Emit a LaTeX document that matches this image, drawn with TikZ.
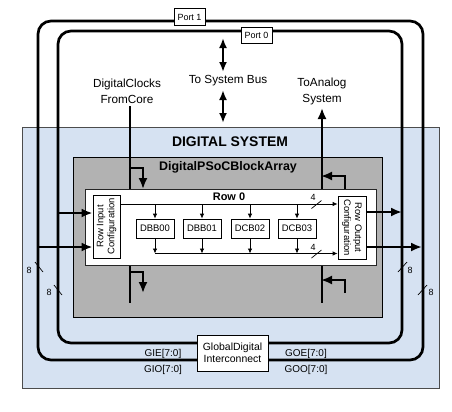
\documentclass[tikz,border=0pt]{standalone}
\usepackage{fontspec}
\setmainfont{Liberation Sans}
\usetikzlibrary{arrows.meta}
\definecolor{sysblue}{HTML}{D6E2F2}
\definecolor{arraygray}{HTML}{B2B2B2}
\begin{document}
\begin{tikzpicture}[x=1bp,y=-1bp,
  loopline/.style={line width=2.7bp, rounded corners=13bp},
  bigarrow/.style={line width=2.6bp, -{Latex[length=11bp,width=9bp]}},
  clkarrow/.style={line width=2bp, -{Latex[length=11bp,width=9bp]}},
  clkline/.style={line width=2bp},
  smallarrow/.style={line width=0.8bp, -{Latex[length=5bp,width=4.5bp]}},
  thinline/.style={line width=0.7bp},
  sysarrow/.style={line width=2.2bp, {Latex[length=10bp,width=8bp]}-{Latex[length=10bp,width=8bp]}},
  whitebox/.style={draw, fill=white, line width=0.8bp, inner sep=0pt},
  blk/.style={whitebox, minimum width=38bp, minimum height=19bp, font=\fontsize{9.5}{11}\selectfont},
  portbox/.style={whitebox, minimum width=31bp, minimum height=16.5bp, font=\fontsize{9}{10}\selectfont},
  lbl/.style={font=\fontsize{11.8}{16}\selectfont, align=center, inner sep=0pt},
  small/.style={font=\fontsize{10}{11}\selectfont, inner sep=0pt},
  tiny/.style={font=\fontsize{9}{10}\selectfont, inner sep=0pt},
  rottext/.style={align=center, inner sep=0pt, font=\fontsize{9.5}{11}\selectfont}
]
\useasboundingbox (0,0) rectangle (452,411);

% system boxes
\node[draw=black!70, fill=sysblue, line width=0.8bp, minimum width=417bp, minimum height=261bp, anchor=north west, inner sep=0pt] (sys) at (22,127) {};
\node[font=\bfseries\fontsize{14}{16}\selectfont, inner sep=0pt] (systitle) at (230,142) {DIGITAL SYSTEM};
\node[draw, fill=arraygray, line width=0.8bp, minimum width=309bp, minimum height=160bp, anchor=north west, inner sep=0pt] (arr) at (73,157) {};
\node[font=\bfseries\fontsize{12.5}{14}\selectfont, inner sep=0pt] (arrtitle) at (228,167) {DigitalPSoCBlockArray};
\node[draw=black!85, fill=white, line width=0.8bp, minimum width=291bp, minimum height=76bp, anchor=north west, inner sep=0pt] (row) at (85,189) {};
\node[font=\bfseries\fontsize{11}{12}\selectfont, inner sep=0pt] (rowtitle) at (229,197) {Row 0};

% row configuration boxes
\node[whitebox, minimum width=27bp, minimum height=63bp] (rin) at (106.5,226.5) {};
\node[rottext, rotate=90] (rintext) at (rin.center) {Row Input\\Configuration};
\node[whitebox, minimum width=28bp, minimum height=63bp] (rout) at (352,227.5) {};
\node[rottext, rotate=-90] (routtext) at (rout.center) {Row Output\\Configuration};

% blocks
\node[blk] (b0) at (155,228.5) {DBB00};
\node[blk] (b1) at (202,228.5) {DBB01};
\node[blk] (b2) at (250,228.5) {DCB02};
\node[blk] (b3) at (297,228.5) {DCB03};

\coordinate (ytb) at (0,204);
\coordinate (ybb) at (0,253.5);
\draw[smallarrow] (rin.east |- ytb) -- (rout.west |- ytb);
\foreach \b in {b0,b1,b2,b3} {
  \draw[smallarrow] (\b.north |- ytb) -- (\b.north);
  \draw[smallarrow] (\b.south) -- (\b.south |- ybb);
}
\draw[smallarrow] (b0.south |- ybb) -- (rout.west |- ybb);
\draw[thinline] (311.5,208.5) -- (321.5,200.5);
\node[tiny] (four1) at (313,197.5) {4};
\draw[thinline] (311.5,258) -- (321.5,250);
\node[tiny] (four2) at (313,247.5) {4};

% port loops
\draw[loopline] (38,21) rectangle (423,360);
\draw[loopline] (58,31) rectangle (402,343);

% bus widths
\draw[thinline] (35,262) -- (43,272);
\node[tiny] (w1) at (29,270) {8};
\draw[thinline] (54,285) -- (62,295);
\node[tiny] (w2) at (49,292) {8};
\draw[thinline] (398,272) -- (407,262);
\node[tiny] (w3) at (410,270) {8};
\draw[thinline] (418,295) -- (427,285);
\node[tiny] (w4) at (431,292) {8};

% arrows into / out of row
\coordinate (l0in) at (58,213);
\coordinate (l1in) at (38,247);
\coordinate (l0out) at (402,212);
\coordinate (l1out) at (422,247);
\draw[bigarrow] (l0in) -- (rin.west |- l0in);
\draw[bigarrow] (l1in) -- (rin.west |- l1in);
\draw[bigarrow] (rout.east |- l0out) -- (l0out);
\draw[bigarrow] (rout.east |- l1out) -- (l1out);

% digital clocks
\node[lbl] (dclk) at (127,91) {DigitalClocks\\FromCore};
\coordinate (ctop) at (130,106);
\coordinate (cin) at (130,168);
\coordinate (cint) at (143,189);
\draw[clkline] (ctop) -- (ctop |- row.north);
\draw[clkarrow] (cin) -| (cint);
\coordinate (cbot) at (130,303);
\coordinate (cb) at (130,272);
\coordinate (cbt) at (143,293);
\draw[clkline] (row.south -| cbot) -- (cbot);
\draw[clkarrow] (cb) -| (cbt);

% to analog system
\node[lbl] (tas) at (322,91) {ToAnalog\\System};
\coordinate (atip) at (322,108);
\draw[clkarrow] (row.north -| atip) -- (atip);
\coordinate (ar1) at (345,176);
\draw[clkarrow, shorten >=-1bp] (row.north -| ar1) |- (atip |- ar1);
\coordinate (abot) at (322,303);
\coordinate (ar2) at (345,293);
\coordinate (ar2h) at (345,280);
\draw[clkline] (row.south -| abot) -- (abot);
\draw[clkarrow, shorten >=-1bp] (ar2) |- (abot |- ar2h);

% system bus
\node[lbl] (tsb) at (228,81) {To System Bus};
\coordinate (s1a) at (223,38);
\coordinate (s1b) at (223,72);
\coordinate (s2a) at (223,90);
\coordinate (s2b) at (223,123);
\draw[sysarrow] (s1a) -- (s1b);
\draw[sysarrow] (s2a) -- (s2b);

% port labels
\node[portbox] (p1) at (189.5,17) {Port 1};
\node[portbox] (p0) at (256.5,35.3) {Port 0};

% global digital interconnect
\node[whitebox, minimum width=71bp, minimum height=36bp, align=center, font=\fontsize{10.5}{12}\selectfont] (gdi) at (232.5,353) {GlobalDigital\\Interconnect};
\node[small] (gie) at (163,354) {GIE[7:0]};
\node[small] (gio) at (163,370) {GIO[7:0]};
\node[small] (goe) at (306,354) {GOE[7:0]};
\node[small] (goo) at (306,370) {GOO[7:0]};
\end{tikzpicture}
\end{document}
